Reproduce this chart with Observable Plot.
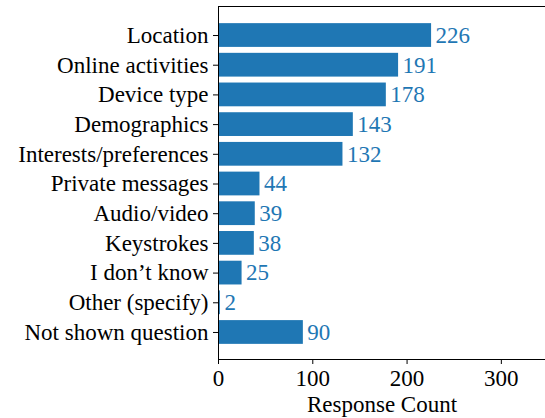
<!DOCTYPE html>
<html>
<head>
<meta charset="utf-8">
<script src="https://cdn.jsdelivr.net/npm/d3@7"></script>
<script src="https://cdn.jsdelivr.net/npm/@observablehq/plot@0.6"></script>
</head>
<body style="margin:0;background:#fff">
<div id="chart"></div>
<script>
const categories = [
  "Location",
  "Online activities",
  "Device type",
  "Demographics",
  "Interests/preferences",
  "Private messages",
  "Audio/video",
  "Keystrokes",
  "I don’t know",
  "Other (specify)",
  "Not shown question"
];
const counts = [226, 191, 178, 143, 132, 44, 39, 38, 25, 2, 90];
const xTicks = [0, 100, 200, 300];
const xLabel = "Response Count";

const data = categories.map((c, i) => ({category: c, count: counts[i]}));
const blue = "#1f77b4";

const chart = Plot.plot({
  width: 545,
  height: 418,
  marginLeft: 218,
  marginRight: 0,
  marginTop: 6,
  marginBottom: 59,
  style: {fontFamily: "Liberation Serif", fontSize: "23px", color: "#000", background: "#fff"},
  x: {domain: [0, 350], range: [218, 548], ticks: xTicks, tickSize: 5, tickPadding: 5, label: null},
  y: {domain: categories, range: [17.2, 349.8], padding: 0.2, round: false, tickSize: 5, tickPadding: 5, label: null},
  marks: [
    Plot.barX(data, {x: "count", y: "category", fill: blue}),
    Plot.text(data, {x: "count", y: "category", text: d => String(d.count), textAnchor: "start", dx: 4, fill: blue}),
    Plot.frame({anchor: "top", stroke: "#000"}),
    Plot.frame({anchor: "left", stroke: "#000"}),
    Plot.frame({anchor: "bottom", stroke: "#000"}),
    Plot.text([xLabel], {frameAnchor: "bottom", lineAnchor: "middle", dy: 45, fill: "#000", text: d => d})
  ]
});
document.getElementById("chart").appendChild(chart);
</script>
</body>
</html>
